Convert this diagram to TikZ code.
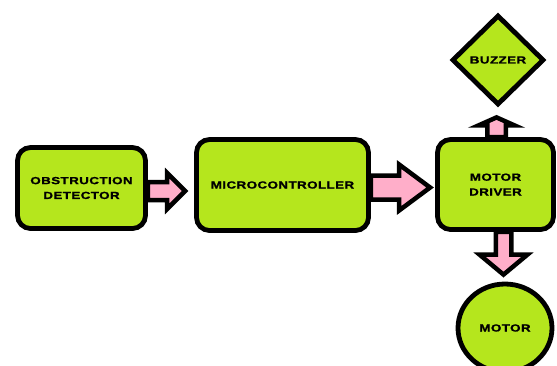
\documentclass[tikz,border=0pt]{standalone}
\usepackage{fontspec}
\newfontfamily\lblfont{Liberation Sans}[FakeStretch=1.3,LetterSpace=4,FakeBold=1.2]
\usetikzlibrary{shapes.geometric,calc}
\definecolor{limefill}{HTML}{B5E61D}
\definecolor{pinkarrow}{HTML}{FFAEC9}

% block arrows: start point, tip point, shaft half-width, head half-width, head length
\newcommand\barright[5]{\draw[barrow] let \p1=#1, \p2=#2 in
  (\x1,\y1+#3) -- (\x2-#5,\y1+#3) -- (\x2-#5,\y1+#4) -- (\x2,\y1)
  -- (\x2-#5,\y1-#4) -- (\x2-#5,\y1-#3) -- (\x1,\y1-#3) -- cycle;}
\newcommand\barup[5]{\draw[barrow] let \p1=#1, \p2=#2 in
  (\x1+#3,\y1) -- (\x1+#3,\y2-#5) -- (\x1+#4,\y2-#5) -- (\x1,\y2)
  -- (\x1-#4,\y2-#5) -- (\x1-#3,\y2-#5) -- (\x1-#3,\y1) -- cycle;}
\newcommand\bardown[5]{\draw[barrow] let \p1=#1, \p2=#2 in
  (\x1+#3,\y1) -- (\x1+#3,\y2+#5) -- (\x1+#4,\y2+#5) -- (\x1,\y2)
  -- (\x1-#4,\y2+#5) -- (\x1-#3,\y2+#5) -- (\x1-#3,\y1) -- cycle;}

\begin{document}
\begin{tikzpicture}[x=1pt,y=-1pt,
  blk/.style={draw=black, line width=4.8pt, fill=limefill, inner sep=0pt,
    font=\lblfont\bfseries\fontsize{10.3}{14.8}\selectfont, align=center},
  roundbox/.style={blk, rectangle, rounded corners=13pt},
  barrow/.style={draw=black, line width=4.5pt, fill=pinkarrow, line join=miter, miter limit=10}]

\clip (0,0) rectangle (557,365);
\fill[white] (0,0) rectangle (557,365);

% blocks
\node[roundbox, minimum width=128pt, minimum height=81pt] (od) at (81.5,188) {OBSTRUCTION\\DETECTOR};
\node[roundbox, minimum width=172pt, minimum height=91pt] (mc) at (282.5,185) {MICROCONTROLLER};
\node[roundbox, minimum width=116pt, minimum height=90pt] (md) at (495.5,184.5) {MOTOR\\DRIVER};
\node[blk, diamond, minimum width=92pt, minimum height=90pt, line join=miter] (bz) at (498,60) {BUZZER};
\node[blk, ellipse, minimum width=94pt, minimum height=88pt] (motor) at (505,328) {MOTOR};

% connectors
\barright{($(od.east)+(0,3)$)}{($(mc.west)+(-9,0)$)}{9pt}{18pt}{18pt}
\barright{($(mc.east)+(0,2.5)$)}{($(md.west)+(-5,0)$)}{12pt}{23pt}{31pt}
\barup{($(md.north)+(1,0)$)}{($(bz.south)+(0,10)$)}{9.25pt}{18pt}{8pt}
\bardown{($(md.south)+(8,0)$)}{($(motor.north)+(0,-7)$)}{7.75pt}{24pt}{20pt}
\end{tikzpicture}
\end{document}
